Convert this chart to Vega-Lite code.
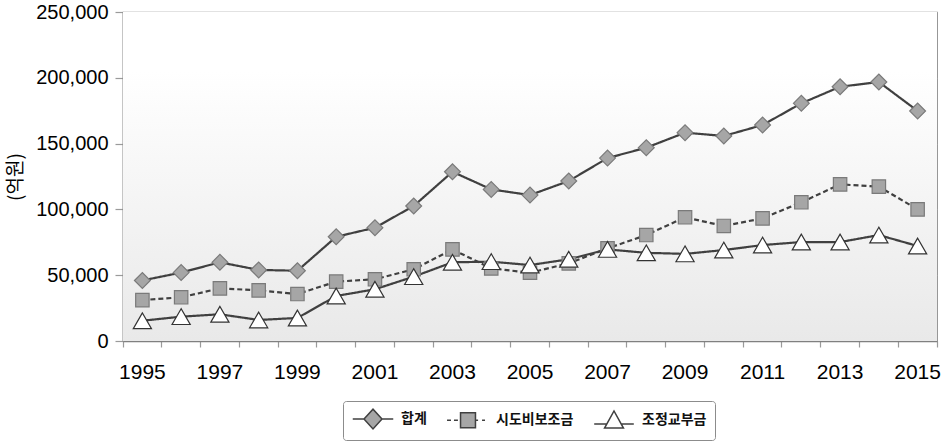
{
  "$schema": "https://vega.github.io/schema/vega-lite/v6.json",
  "autosize": {"type": "none"},
  "width": 814,
  "height": 329,
  "padding": {"left": 123, "top": 12, "right": 8, "bottom": 102},
  "background": "white",
  "config": {
    "view": {"stroke": "#8c8c8c", "strokeWidth": 1.2},
    "font": "Liberation Sans"
  },
  "data": {
    "values": [
      {"year": 1995, "series": "합계", "value": 46000},
      {"year": 1996, "series": "합계", "value": 52000},
      {"year": 1997, "series": "합계", "value": 59800},
      {"year": 1998, "series": "합계", "value": 54000},
      {"year": 1999, "series": "합계", "value": 53400},
      {"year": 2000, "series": "합계", "value": 79200},
      {"year": 2001, "series": "합계", "value": 86100},
      {"year": 2002, "series": "합계", "value": 102600},
      {"year": 2003, "series": "합계", "value": 128600},
      {"year": 2004, "series": "합계", "value": 115200},
      {"year": 2005, "series": "합계", "value": 110900},
      {"year": 2006, "series": "합계", "value": 121600},
      {"year": 2007, "series": "합계", "value": 139000},
      {"year": 2008, "series": "합계", "value": 146900},
      {"year": 2009, "series": "합계", "value": 158300},
      {"year": 2010, "series": "합계", "value": 155800},
      {"year": 2011, "series": "합계", "value": 164100},
      {"year": 2012, "series": "합계", "value": 180600},
      {"year": 2013, "series": "합계", "value": 193200},
      {"year": 2014, "series": "합계", "value": 196800},
      {"year": 2015, "series": "합계", "value": 174800},
      {"year": 1995, "series": "시도비보조금", "value": 31100},
      {"year": 1996, "series": "시도비보조금", "value": 33200},
      {"year": 1997, "series": "시도비보조금", "value": 40000},
      {"year": 1998, "series": "시도비보조금", "value": 38500},
      {"year": 1999, "series": "시도비보조금", "value": 35700},
      {"year": 2000, "series": "시도비보조금", "value": 45100},
      {"year": 2001, "series": "시도비보조금", "value": 46900},
      {"year": 2002, "series": "시도비보조금", "value": 54500},
      {"year": 2003, "series": "시도비보조금", "value": 69600},
      {"year": 2004, "series": "시도비보조금", "value": 55200},
      {"year": 2005, "series": "시도비보조금", "value": 51900},
      {"year": 2006, "series": "시도비보조금", "value": 59000},
      {"year": 2007, "series": "시도비보조금", "value": 70400},
      {"year": 2008, "series": "시도비보조금", "value": 80500},
      {"year": 2009, "series": "시도비보조금", "value": 94000},
      {"year": 2010, "series": "시도비보조금", "value": 87400},
      {"year": 2011, "series": "시도비보조금", "value": 93200},
      {"year": 2012, "series": "시도비보조금", "value": 105400},
      {"year": 2013, "series": "시도비보조금", "value": 119000},
      {"year": 2014, "series": "시도비보조금", "value": 117300},
      {"year": 2015, "series": "시도비보조금", "value": 100000},
      {"year": 1995, "series": "조정교부금", "value": 15400},
      {"year": 1996, "series": "조정교부금", "value": 18500},
      {"year": 1997, "series": "조정교부금", "value": 20300},
      {"year": 1998, "series": "조정교부금", "value": 16000},
      {"year": 1999, "series": "조정교부금", "value": 17500},
      {"year": 2000, "series": "조정교부금", "value": 34200},
      {"year": 2001, "series": "조정교부금", "value": 39300},
      {"year": 2002, "series": "조정교부금", "value": 48900},
      {"year": 2003, "series": "조정교부금", "value": 59800},
      {"year": 2004, "series": "조정교부금", "value": 60300},
      {"year": 2005, "series": "조정교부금", "value": 57700},
      {"year": 2006, "series": "조정교부금", "value": 62100},
      {"year": 2007, "series": "조정교부금", "value": 69600},
      {"year": 2008, "series": "조정교부금", "value": 67000},
      {"year": 2009, "series": "조정교부금", "value": 66200},
      {"year": 2010, "series": "조정교부금", "value": 69100},
      {"year": 2011, "series": "조정교부금", "value": 72900},
      {"year": 2012, "series": "조정교부금", "value": 75200},
      {"year": 2013, "series": "조정교부금", "value": 75200},
      {"year": 2014, "series": "조정교부금", "value": 80500},
      {"year": 2015, "series": "조정교부금", "value": 72200}
    ]
  },
  "layer": [
    {
      "data": {"values": [{}]},
      "mark": {
        "type": "rect",
        "color": {
          "gradient": "linear", "x1": 0, "y1": 0, "x2": 0, "y2": 1,
          "stops": [
            {"offset": 0, "color": "#ffffff"},
            {"offset": 0.18, "color": "#ffffff"},
            {"offset": 1, "color": "#e9e9e9"}
          ]
        }
      },
      "encoding": {
        "y": {"datum": 0, "type": "quantitative", "scale": {"domain": [0, 250000], "nice": false}},
        "y2": {"datum": 250000}
      }
    },
    {
      "mark": {"type": "line", "stroke": "#404040", "strokeWidth": 2.2},
      "encoding": {
        "x": {
          "field": "year", "type": "ordinal",
          "scale": {"type": "band", "paddingInner": 0, "paddingOuter": 0},
          "axis": {
            "title": null,
            "labelAngle": 0,
            "bandPosition": 1,
            "tickExtra": true,
            "labelExpr": "datum.value % 2 == 1 ? datum.label : ''",
            "labelOverlap": false,
            "labelFont": "Liberation Sans",
            "labelFontSize": 21,
            "labelColor": "#000000",
            "labelPadding": 14,
            "tickSize": 6,
            "tickColor": "#9a9a9a",
            "tickWidth": 1.2,
            "domainColor": "#808080",
            "domainWidth": 1.5,
            "grid": false
          }
        },
        "y": {
          "field": "value", "type": "quantitative",
          "scale": {"domain": [0, 250000], "nice": false},
          "axis": {
            "title": "(억원)",
            "titleFont": "Noto Sans CJK KR",
            "titleFontSize": 19,
            "titleFontWeight": "normal",
            "titleColor": "#000000",
            "titlePadding": 10,
            "values": [0, 50000, 100000, 150000, 200000, 250000],
            "format": ",.0f",
            "labelFont": "Liberation Sans",
            "labelFontSize": 20,
            "labelColor": "#000000",
            "labelPadding": 7,
            "tickSize": 8,
            "tickColor": "#9a9a9a",
            "tickWidth": 1.2,
            "domainColor": "#808080",
            "domainWidth": 1.5,
            "grid": true,
            "gridColor": "#a8a8a8",
            "gridDash": [2, 2],
            "gridWidth": 1
          }
        },
        "detail": {"field": "series"},
        "strokeDash": {
          "field": "series", "type": "nominal",
          "scale": {"domain": ["시도비보조금", "조정교부금", "합계"], "range": [[5, 3], [1, 0], [1, 0]]},
          "legend": null
        }
      }
    },
    {
      "mark": {"type": "point", "filled": true, "opacity": 1, "strokeWidth": 1.2},
      "encoding": {
        "x": {"field": "year", "type": "ordinal"},
        "y": {"field": "value", "type": "quantitative", "scale": {"domain": [0, 250000], "nice": false}},
        "fill": {
          "field": "series", "type": "nominal",
          "scale": {"domain": ["합계", "시도비보조금", "조정교부금"], "range": ["#a6a6a6", "#a6a6a6", "#ffffff"]},
          "legend": {
            "orient": "none",
            "legendX": 220,
            "legendY": 389,
            "direction": "horizontal",
            "title": null,
            "padding": 8,
            "strokeColor": "#8c8c8c",
            "fillColor": "#ffffff",
            "cornerRadius": 3,
            "symbolSize": 324,
            "symbolOffset": 12,
            "symbolStrokeColor": "#404040",
            "symbolStrokeWidth": 1.5,
            "labelOffset": 18,
            "columnPadding": 17,
            "labelFont": "Noto Sans CJK KR",
            "labelFontSize": 14,
            "labelFontWeight": "bold",
            "labelColor": "#111111",
            "encoding": {
              "symbols": {
                "shape": {"value": {"expr": "datum.value === '합계' ? 'M-2.25,0L-1,0M1,0L2.25,0M-1,0L0,-1.1L1,0L0,1.1Z' : datum.value === '시도비보조금' ? 'M-2.33,0L-1.89,0M-1.56,0L-1.12,0M0.83,0L1.12,0M1.56,0L1.89,0M-0.83,-0.83L0.83,-0.83L0.83,0.83L-0.83,0.83Z' : 'M-2.2,0.45L-0.8,0.45M0.8,0.45L2.2,0.45M-1.05,0.9L1.05,0.9L0,-1Z'"}},
                "stroke": {"value": "#404040"},
                "strokeWidth": {"value": 1.5},
                "opacity": {"value": 1}
              }
            }
          }
        },
        "shape": {
          "field": "series", "type": "nominal",
          "scale": {"domain": ["조정교부금", "시도비보조금", "합계"], "range": ["triangle-up", "square", "diamond"]},
          "legend": null
        },
        "stroke": {
          "field": "series", "type": "nominal",
          "scale": {"domain": ["조정교부금", "합계", "시도비보조금"], "range": ["#333333", "#7a7a7a", "#7a7a7a"]},
          "legend": null
        },
        "size": {
          "field": "series", "type": "nominal",
          "scale": {"type": "ordinal", "domain": ["합계", "조정교부금", "시도비보조금"], "range": [250, 330, 180]},
          "legend": null
        }
      }
    }
  ]
}
